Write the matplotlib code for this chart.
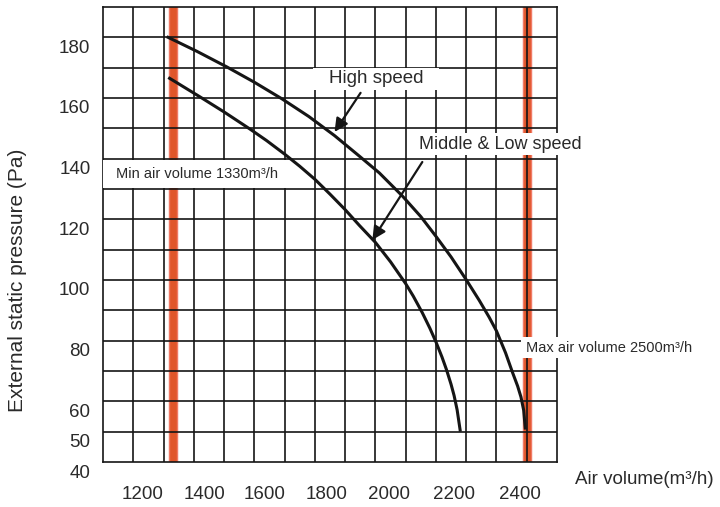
import numpy as np
import matplotlib
matplotlib.use("Agg")
import matplotlib.pyplot as plt
from matplotlib.patches import Rectangle
from matplotlib.transforms import ScaledTranslation

plt.rcParams['font.family'] = ['Liberation Sans', 'DejaVu Sans']

# fan curves (air volume m3/h, pressure Pa)
high_x = [1315, 1410, 1510, 1600, 1690, 1780, 1865, 1945, 2013, 2090, 2150,
          2200, 2250, 2300, 2343, 2376, 2400, 2430, 2452, 2470, 2481, 2490, 2495]
high_y = [180, 175.4, 170.2, 165.2, 159.8, 153.9, 147.6, 141.0, 135.3, 127.6, 120.9,
          114.4, 107.6, 100.1, 93.3, 87.7, 83.2, 76.0, 69.8, 65.0, 61.4, 57.0, 51.2]
low_x = [1320, 1420, 1500, 1585, 1640, 1700, 1750, 1800, 1850, 1900, 1947, 2000,
         2050, 2100, 2125, 2155, 2180, 2200, 2220, 2235, 2250, 2260, 2270, 2280]
low_y = [166.5, 160.4, 155.4, 149.8, 146.0, 141.5, 137.5, 133.2, 128.3, 123.2, 118.0, 112.4,
         106.0, 98.8, 94.7, 89.2, 84.1, 79.6, 74.6, 70.4, 65.6, 61.9, 57.2, 50.5]

min_volume = 1330
max_volume = 2500

xtick_labels = [1200, 1400, 1600, 1800, 2000, 2200, 2400]
ytick_labels = [40, 50, 60, 80, 100, 120, 140, 160, 180]

# where the printed x labels sit in the drawing
xtick_at = [1232, 1436, 1634, 1839, 2046, 2261, 2478]

fig = plt.figure(figsize=(7.2, 5.07), dpi=100)
ax = fig.add_axes([103 / 720, 45 / 507, 454 / 720, 455 / 507])
ax.set_xlim(1100, 2600)
ax.set_ylim(40, 190)

ink = '#151515'

# grid
ax.vlines(np.arange(1200, 2600, 100), 40, 190, color=ink, lw=1.2, zorder=1.5)
ax.hlines(np.arange(50, 190, 10), 1100, 2600, color=ink, lw=1.2, zorder=1.5)
for s in ax.spines.values():
    s.set_color(ink)
    s.set_linewidth(1.2)

# red limit bars
for v in (min_volume, max_volume):
    ax.axvline(v, ymin=0.005, ymax=1, color='#f07a66', lw=6.8, zorder=1)
    ax.axvline(v, ymin=0.005, ymax=1, color='#e0562a', lw=4.8, zorder=1.1)

# white boxes behind the labels
boxes = [(1101, 130.4, 610, 9.3), (2480, 74.3, 600, 6.9),
         (1795, 162.5, 415, 7.3), (2129, 141.2, 580, 7.3)]
for bx, by, bw, bh in boxes:
    ax.add_patch(Rectangle((bx, by), bw, bh, fc='white', ec='none',
                           zorder=3, clip_on=False))

ax.plot(high_x, high_y, color=ink, lw=2.2, zorder=3.5, solid_joinstyle='round')
ax.plot(low_x, low_y, color=ink, lw=2.2, zorder=3.5, solid_joinstyle='round')

tc = '#2a2a2a'
ax.text(1143, 134.8, 'Min air volume 1330m\u00b3/h', fontsize=10.5, color=tc,
        va='center', ha='left', zorder=5)
ax.text(2498, 77.6, 'Max air volume 2500m\u00b3/h', fontsize=10.5, color=tc,
        va='center', ha='left', zorder=5, clip_on=False)
ax.text(1848, 166.3, 'High speed', fontsize=13.5, color=tc,
        va='center', ha='left', zorder=5)
ax.text(2145, 144.8, 'Middle & Low speed', fontsize=13, color=tc,
        va='center', ha='left', zorder=5, clip_on=False)

arrow = dict(arrowstyle='-|>', mutation_scale=20, lw=1.6, color=ink,
             shrinkA=0, shrinkB=0)
ax.annotate('', xy=(1865, 148.8), xytext=(1951, 161.7), arrowprops=arrow, zorder=4)
ax.annotate('', xy=(1990, 113.2), xytext=(2155, 138.9), arrowprops=arrow, zorder=4)

# ticks
ax.set_xticks(xtick_at)
ax.set_xticklabels([str(v) for v in xtick_labels])
ax.set_yticks(ytick_labels)
ax.set_yticklabels([str(v) for v in ytick_labels])
ax.tick_params(axis='x', length=0, pad=17, labelsize=13.5, labelcolor=tc)
ax.tick_params(axis='y', length=0, pad=9, labelsize=13.5, labelcolor=tc)
shift = ScaledTranslation(0, -0.09, fig.dpi_scale_trans)
for lab in ax.get_yticklabels():
    lab.set_transform(lab.get_transform() + shift)

fig.text(575 / 720, 1 - 480 / 507, 'Air volume(m\u00b3/h)', fontsize=13.5,
         color=tc, ha='left', va='center')
fig.text(18 / 720, 1 - 280 / 507, 'External static pressure (Pa)', fontsize=15,
         color=tc, ha='center', va='center', rotation=90)

fig.savefig('out.png', dpi=100)
